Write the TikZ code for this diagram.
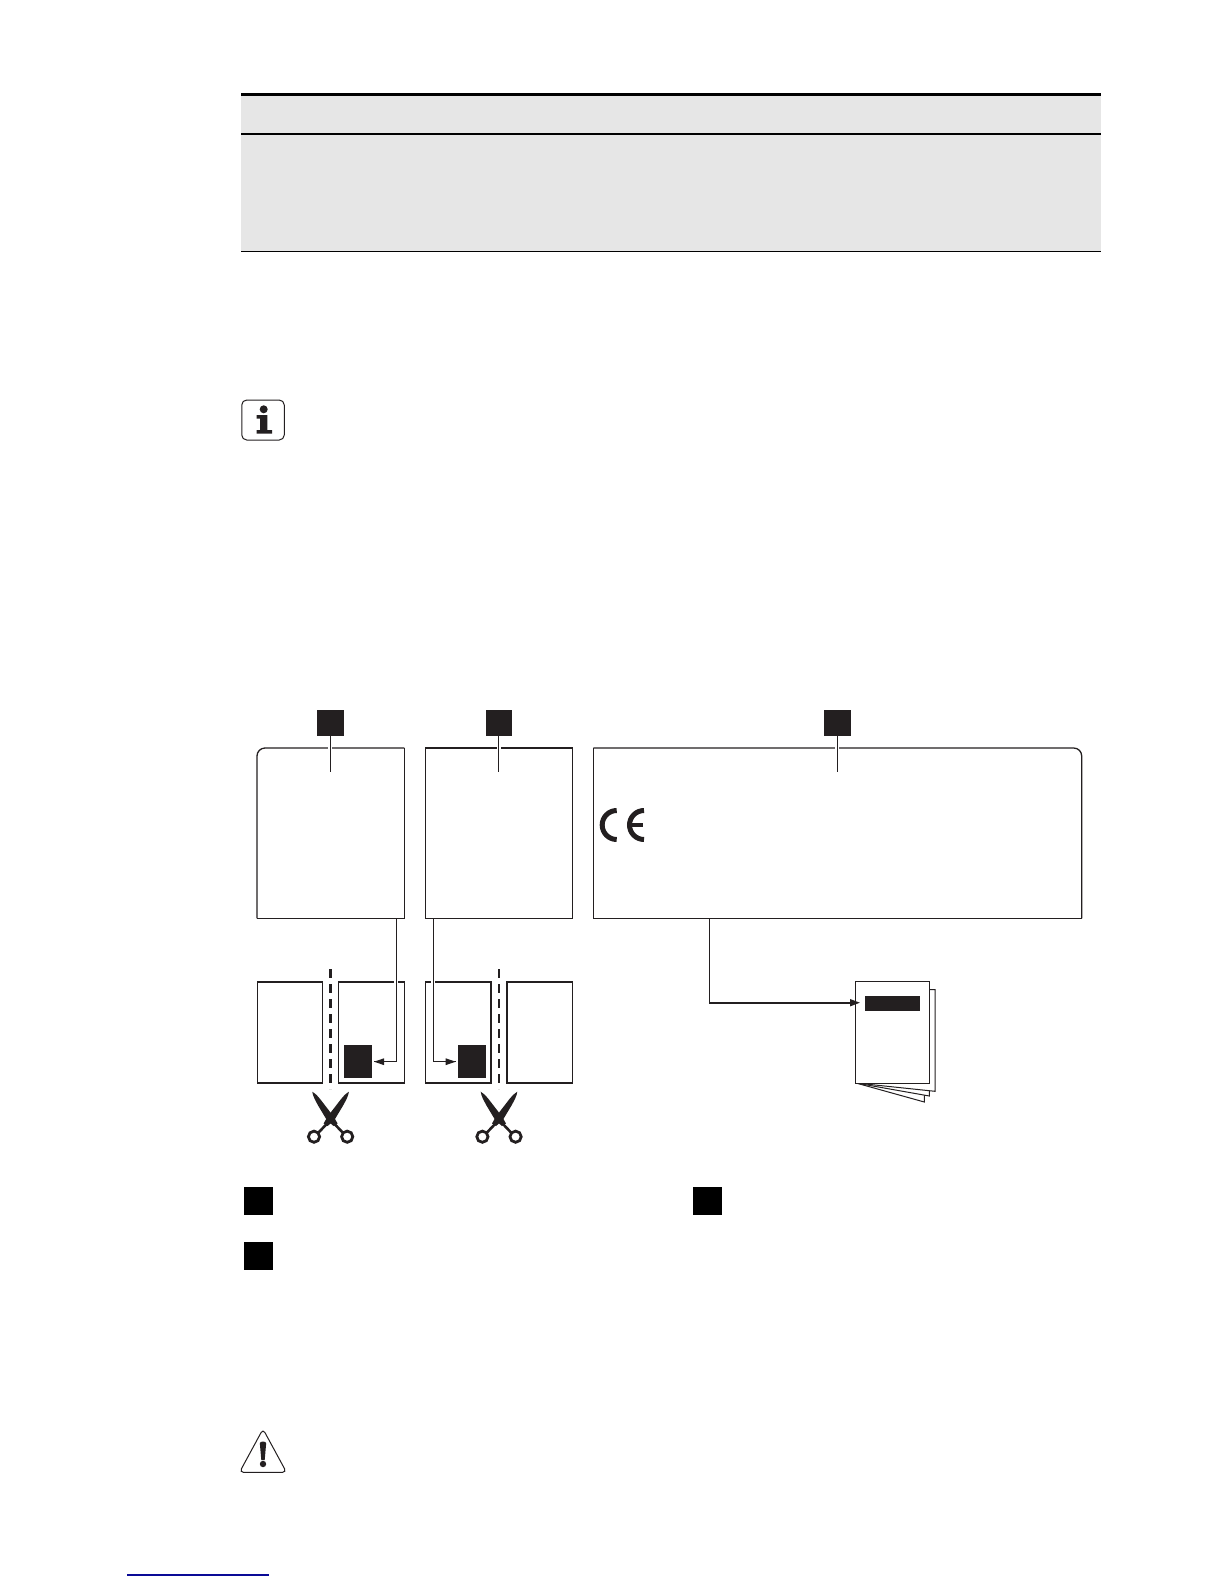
\documentclass[tikz,border=0pt]{standalone}
\usetikzlibrary{arrows.meta}
\definecolor{ink}{HTML}{231F20}
\definecolor{band}{HTML}{E6E6E6}
\definecolor{linkblue}{HTML}{0A0A96}
\tikzset{
  x=1pt,y=-1pt,
  sheet/.style={rectangle,draw=ink,fill=white,line width=1.3pt,inner sep=0pt,outer sep=0pt},
  frame/.style={rectangle,inner sep=0pt,outer sep=0pt},
  outline/.style={draw=ink,line width=1.3pt},
  tag/.style={rectangle,fill=ink,inner sep=0pt,outer sep=0pt,minimum width=27pt,minimum height=26pt},
  legendtag/.style={rectangle,fill=black,inner sep=0pt,outer sep=0pt,minimum width=29pt,minimum height=28pt},
  darkpatch/.style={rectangle,fill=ink,inner sep=0pt,outer sep=0pt,minimum width=28pt,minimum height=33pt},
  leader/.style={draw=ink,line width=1.1pt,preaction={draw=white,line width=4pt}},
  feed/.style={draw=ink,line width=1.1pt,preaction={draw=white,line width=4pt}},
  pointer/.style={draw=ink,line width=1.1pt,-{Stealth[length=10pt,width=6.5pt,inset=0pt]}},
  cutline/.style={draw=ink,dash pattern=on 8.5pt off 6.5pt},
  scissors/.pic={
    \fill[ink] (-18.3,-28.3) .. controls (-15,-26) and (-12.5,-24) .. (-10.5,-21)
       -- (3,-3.5) -- (7,3.5) -- (3,6) -- (-3.5,0.5) -- (-12.5,-14.5) .. controls (-15,-19) and (-18,-24.5) .. cycle;
    \fill[ink] (18.3,-28.3) .. controls (15,-26) and (12.5,-24) .. (10.5,-21)
       -- (-3,-3.5) -- (-7,3.5) -- (-3,6) -- (3.5,0.5) -- (12.5,-14.5) .. controls (15,-19) and (18,-24.5) .. cycle;
    \draw[ink,line width=2.6pt] (3,3) -- (12.5,13);
    \draw[ink,line width=2.6pt] (-3,3) -- (-12.5,13);
    \draw[ink,line width=2.8pt] (-16.6,16.7) circle[radius=5.6];
    \draw[ink,line width=2.8pt] (16.6,16.7) circle[radius=5.6];
  },
}
\begin{document}
\begin{tikzpicture}
\useasboundingbox (0,0) rectangle (1224,1584);
% table band
\node[frame,fill=band,minimum width=860pt,minimum height=158pt] (tableband) at (671,172) {};
\draw[black,line width=3pt] (tableband.north west) ++(0,1.5) -- ++(860,0);
\draw[black,line width=2pt] (241,134) -- (1101,134);
\draw[black,line width=1pt] (tableband.south west) -- (tableband.south east);
% info icon
\node[rectangle,draw=ink,line width=1pt,rounded corners=5pt,inner sep=0pt,minimum width=42.5pt,minimum height=40pt] (infobox) at (263,420) {};
\fill[ink] (263.7,409.3) circle[radius=4];
\fill[ink] (256.7,415) -- (267.3,415) -- (267.3,430) -- (272,430) -- (272,433.5) -- (256.7,433.5) -- (256.7,430) -- (260,430) -- (260,418.5) -- (256.7,418.5) -- cycle;
% cut-apart sheets
\node[sheet,minimum width=65pt,minimum height=101pt] (lefta) at (289.8,1032.5) {};
\node[sheet,minimum width=65.6pt,minimum height=101pt] (righta) at (371.5,1032.5) {};
\node[sheet,minimum width=65.7pt,minimum height=101pt] (leftb) at (458.2,1032.5) {};
\node[sheet,minimum width=65.7pt,minimum height=101pt] (rightb) at (539.8,1032.5) {};
\node[darkpatch] (patcha) at (358,1061.3) {};
\node[darkpatch] (patchb) at (472,1061.3) {};
% booklet
\draw[ink,line width=1pt,fill=white] (856,1083) -- (924.3,1102) -- (924.3,1090) -- (929,1090) -- cycle;
\draw[ink,line width=1pt,fill=white] (856,1083) -- (929.3,1096) -- (929.3,1085) -- cycle;
\draw[ink,line width=1pt,fill=white] (925,989.7) -- (935,989.7) -- (935,1091.3) -- (856,1083) -- cycle;
\node[sheet,line width=1.5pt,minimum width=73.6pt,minimum height=101.6pt] (booklet) at (892.5,1032.5) {};
\node[frame,fill=ink,minimum width=55pt,minimum height=15pt] (bookletlabel) at (892.5,1003.5) {};
% main frames (positions only)
\node[frame,minimum width=147.3pt,minimum height=170.3pt] (framea) at (330.65,833.15) {};
\node[frame,minimum width=147.4pt,minimum height=170.3pt] (frameb) at (499,833.15) {};
\node[frame,minimum width=488.4pt,minimum height=170.3pt] (framec) at (837.5,833.15) {};
% connectors
\coordinate (starta) at (396.3,918.3);
\coordinate (benda) at (396.3,1061.7);
\coordinate (enda) at ([xshift=2pt]patcha.east |- benda);
\coordinate (startb) at (433.3,918.3);
\coordinate (bendb) at (433.3,1061.7);
\coordinate (endb) at ([xshift=-2.3pt]patchb.west |- bendb);
\coordinate (startc) at (709.3,918.3);
\coordinate (bendc) at (709.3,1002.7);
\draw[feed] (starta) -- (benda) -- (enda);
\draw[feed] (startb) -- (bendb) -- (endb);
\draw[pointer] (benda) -- (enda);
\draw[pointer] (bendb) -- (endb);
\draw[draw=ink,line width=1.6pt,-{Stealth[length=10pt,width=7pt,inset=0pt]}] (startc) -- (bendc) -- (860,1002.7);
% frame outlines
\draw[outline,rounded corners=8pt] (framea.south west) -- (framea.north west) -- (framea.north east);
\draw[outline] (framea.north east) -- (framea.south east) -- (framea.south west);
\draw[outline] (frameb.south west) -- (frameb.north west) -- (frameb.north east) -- (frameb.south east) -- cycle;
\draw[outline,rounded corners=8pt] (framec.north west) -- (framec.north east) -- (framec.south east);
\draw[outline] (framec.south east) -- (framec.south west) -- (framec.north west);
% tags and leaders
\coordinate (tipa) at (330.3,772);
\coordinate (tipb) at (498.7,772);
\coordinate (tipc) at (837.3,772);
\node[tag] (taga) at (330.5,723) {};
\node[tag,minimum width=26pt] (tagb) at (499,723) {};
\node[tag] (tagc) at (837.5,723) {};
\draw[leader] (taga.south) ++(-0.2,0) -- (tipa);
\draw[leader,line width=1.5pt] (tagb.south) ++(-0.3,0) -- (tipb);
\draw[leader] (tagc.south) ++(-0.2,0) -- (tipc);
% CE mark
\draw[ink,line width=5pt] (616.7,810.5) arc[start angle=90,end angle=270,radius=14.5pt];
\draw[ink,line width=5pt] (644,810.5) arc[start angle=90,end angle=270,radius=14.5pt];
\draw[ink,line width=4pt] (630,825) -- (643,825);
% cut lines
\coordinate (cutatop) at (330.3,969);
\coordinate (cutabot) at (330.3,1089);
\coordinate (cutbtop) at (498.7,969);
\coordinate (cutbbot) at (498.7,1089);
\draw[cutline,line width=3pt] (cutatop) -- (cutabot);
\draw[cutline,line width=2.2pt] (cutbtop) -- (cutbbot);
\pic at (330.6,1120) {scissors};
\pic at (499,1120) {scissors};
% legend squares
\node[legendtag] (legenda) at (258.5,1201) {};
\node[legendtag] (legendb) at (258.5,1256) {};
\node[legendtag] (legendc) at (707.5,1201) {};
% warning triangle
\draw[ink,line width=1pt,rounded corners=4pt,fill=white] (263,1429) -- (286.5,1472.3) -- (239.5,1472.3) -- cycle;
\fill[ink] (259.8,1443) .. controls (260.5,1441) and (265.5,1441) .. (266.2,1443) -- (264.7,1460) -- (261.3,1460) -- cycle;
\fill[ink] (263,1464) circle[radius=3.2];
% footer link rule
\draw[linkblue,line width=1.3pt] (127,1575) -- (269,1575);
\end{tikzpicture}
\end{document}
